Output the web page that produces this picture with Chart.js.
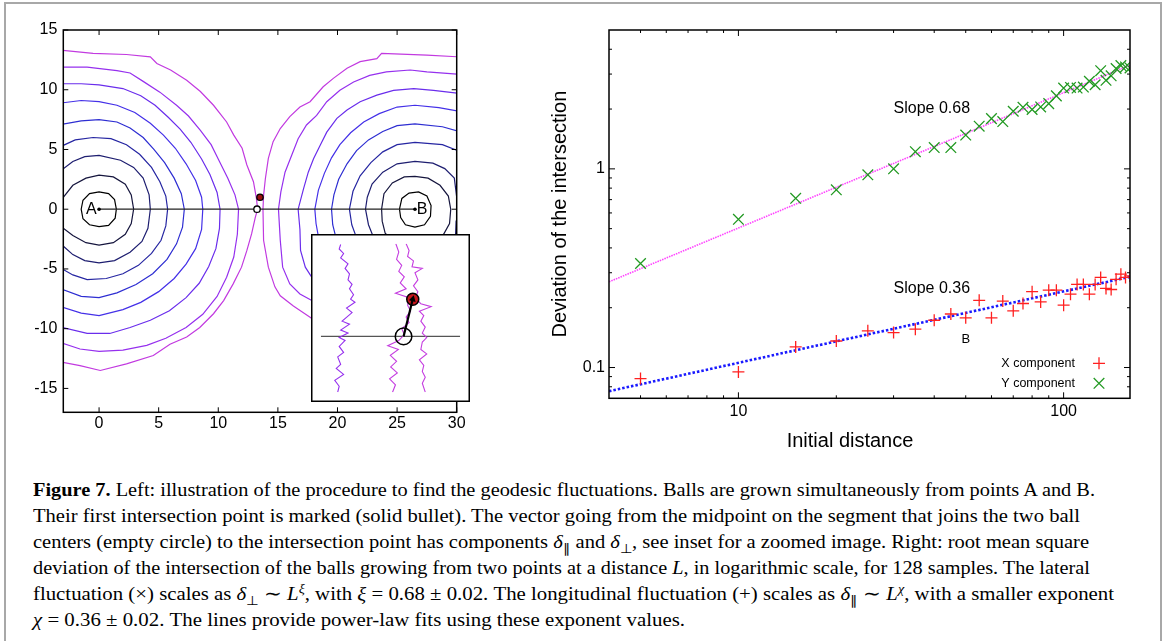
<!DOCTYPE html>
<html>
<head>
<meta charset="utf-8">
<title>Figure 7</title>
<script src="https://cdn.jsdelivr.net/npm/chart.js@4.4.1/dist/chart.umd.min.js"></script>
<style>
  html, body { margin: 0; padding: 0; background: #fff; }
  body { width: 1168px; height: 641px; position: relative; overflow: hidden; font-family: "Liberation Sans", Arial, sans-serif; }
  #frame { position: absolute; left: 4px; top: 2px; width: 1154px; height: 700px; border: 2px solid #a8a8a8; border-bottom: none; }
  #leftChart { position: absolute; left: 0; top: 0; }
  #insetChart { position: absolute; left: 311px; top: 234px; z-index: 2; }
  #rightChart { position: absolute; left: 540px; top: 0; }
  #caption { position: absolute; left: 33px; top: 476.5px; font-family: "Liberation Serif", "Times New Roman", serif; font-size: 18.5px; color: #000; }
  #caption .ln { height: 26.2px; line-height: 26.2px; white-space: nowrap; }
  #caption .ln span { display: inline-block; transform-origin: 0 50%; }
  sub, sup { font-size: 68%; line-height: 0; }
</style>
</head>
<body>
<div id="frame"></div>
<canvas id="leftChart" width="480" height="460"></canvas>
<canvas id="insetChart" width="159" height="168"></canvas>
<canvas id="rightChart" width="620" height="460"></canvas>
<div id="caption">
  <div class="ln"><span><b>Figure 7.</b> Left: illustration of the procedure to find the geodesic fluctuations. Balls are grown simultaneously from points A and B.</span></div>
  <div class="ln"><span>Their first intersection point is marked (solid bullet). The vector going from the midpoint on the segment that joins the two ball</span></div>
  <div class="ln"><span>centers (empty circle) to the intersection point has components <i>δ</i><sub>∥</sub> and <i>δ</i><sub>⊥</sub>, see inset for a zoomed image. Right: root mean square</span></div>
  <div class="ln"><span>deviation of the intersection of the balls growing from two points at a distance <i>L</i>, in logarithmic scale, for 128 samples. The lateral</span></div>
  <div class="ln"><span>fluctuation (×) scales as <i>δ</i><sub>⊥</sub> ∼ <i>L</i><sup><i>ξ</i></sup>, with <i>ξ</i> = 0.68 ± 0.02. The longitudinal fluctuation (+) scales as <i>δ</i><sub>∥</sub> ∼ <i>L</i><sup><i>χ</i></sup>, with a smaller exponent</span></div>
  <div class="ln"><span><i>χ</i> = 0.36 ± 0.02. The lines provide power-law fits using these exponent values.</span></div>
</div>
<script>
// --- DATA: right panel (log-log) --- //
const distances = [5, 10, 15, 20, 25, 30, 35, 40, 45, 50, 55, 60, 65, 70, 75, 80, 85, 90, 95, 100, 105, 110, 115, 120, 125, 130, 135, 140, 145, 150, 155, 160];
const xComponent = [0.088, 0.095, 0.127, 0.136, 0.153, 0.150, 0.156, 0.173, 0.186, 0.178, 0.218, 0.178, 0.216, 0.193, 0.210, 0.241, 0.214, 0.245, 0.245, 0.206, 0.234, 0.262, 0.262, 0.234, 0.262, 0.284, 0.250, 0.247, 0.278, 0.295, 0.284, 0.289];
const yComponent = [0.334, 0.557, 0.711, 0.784, 0.933, 1.00, 1.22, 1.28, 1.28, 1.48, 1.64, 1.79, 1.73, 1.95, 2.04, 1.99, 2.05, 2.13, 2.33, 2.55, 2.57, 2.55, 2.58, 2.76, 2.65, 3.12, 2.79, 2.94, 3.20, 3.31, 3.26, 3.22];
const fitDistance = [4, 160];
const fitY = [0.27, 3.33];
const fitX = [0.076, 0.286];
const xMajorTicks = [10, 100];
const xMinorTicks = [5, 6, 7, 8, 9, 20, 30, 40, 50, 60, 70, 80, 90];
const yMajorTicks = [0.1, 1];
const yMinorTicks = [0.08, 0.09, 0.2, 0.3, 0.4, 0.5, 0.6, 0.7, 0.8, 0.9, 2, 3, 4];
const slopeLabels = ['Slope 0.68', 'Slope 0.36'];
const slopeLabelX = [30, 30];
const slopeLabelY = [2.0, 0.25];
const legendLabels = ['X component', 'Y component'];

// --- DATA: left panel (balls grown from A and B) --- //
const leftXTicks = [0, 5, 10, 15, 20, 25, 30];
const leftYTicks = [-15, -10, -5, 0, 5, 10, 15];
const centerA = [0, 0];
const centerB = [26.5, 0];
const midPoint = [13.25, 0];
const hitPoint = [13.5, 1.0];
const ballColors = ['#000000', '#16163e', '#1e1e70', '#2626a2', '#2e2ed2', '#4430e8', '#6a2dec', '#9630ee', '#c23ae0'];

const ballA1 = [[1.45, 0], [1.3, 0.8], [0.8, 1.3], [0, 1.45], [-0.8, 1.3], [-1.35, 0.75], [-1.5, 0], [-1.35, -0.8], [-0.8, -1.3], [0, -1.45], [0.8, -1.35], [1.35, -0.75], [1.45, 0]];
const ballA2 = [[2.9, 0], [2.7, 1.2], [2.2, 2.1], [1.2, 2.7], [0, 2.85], [-1.1, 2.6], [-2.2, 2.0], [-3.0, 1.0], [-3.2, 0], [-3.0, -1.6], [-2.2, -2.2], [-1.1, -2.8], [0, -3.0], [1.2, -2.8], [2.2, -2.1], [2.7, -1.2], [2.9, 0]];
const ballA3 = [[-3.1, 3.3], [-2.2, 4.0], [-1.2, 4.4], [0, 4.5], [1.8, 4.1], [2.9, 3.5], [3.7, 2.6], [4.2, 1.2], [4.3, 0], [4.1, -1.6], [3.6, -2.7], [2.6, -3.6], [1.3, -4.3], [0, -4.5], [-1.2, -4.3], [-2.2, -3.8], [-3.1, -3.0]];
const ballA4 = [[-3.1, 5.3], [-2, 5.8], [-0.5, 6.0], [1, 5.9], [2.3, 5.4], [3.4, 4.6], [4.4, 3.5], [5.1, 2.3], [5.6, 1.1], [5.75, 0], [5.6, -1.4], [5.2, -2.6], [4.4, -3.7], [3.3, -4.7], [2, -5.4], [0.6, -5.8], [-1, -5.9], [-2.2, -5.5], [-3.1, -5.0]];
const ballA5 = [[-3.1, 7.1], [-1.5, 7.4], [0, 7.5], [1.5, 7.3], [2.6, 6.8], [3.7, 6.0], [4.6, 5.0], [5.5, 3.9], [6.3, 2.6], [6.9, 1.3], [7.15, 0], [7.0, -1.5], [6.5, -2.9], [5.7, -4.2], [4.5, -5.4], [3.1, -6.3], [1.5, -7.0], [0, -7.4], [-1.5, -7.3], [-3.1, -6.7]];
const ballA6 = [[-3.1, 8.9], [-1.5, 9.1], [0, 9.0], [1.5, 8.7], [3.0, 8.1], [4.3, 7.2], [5.4, 6.2], [6.4, 5.1], [7.3, 3.8], [8.1, 2.4], [8.6, 1.0], [8.7, 0], [8.6, -1.7], [8.1, -3.3], [7.3, -4.6], [6.3, -5.8], [5.0, -6.9], [3.5, -7.8], [2.0, -8.4], [0, -8.9], [-1.5, -8.7], [-3.1, -8.2]];
const ballA7 = [[-3.1, 10.5], [-1.5, 10.5], [0, 10.4], [2.0, 10.1], [3.5, 9.5], [4.7, 8.7], [5.8, 7.7], [6.8, 6.7], [7.7, 5.6], [8.6, 4.2], [9.3, 2.9], [9.9, 1.4], [10.15, 0], [10.1, -1.6], [9.8, -3.3], [9.2, -4.8], [8.4, -6.2], [7.3, -7.4], [5.9, -8.5], [4.3, -9.3], [2.6, -9.9], [0.9, -10.4], [-1, -10.4], [-3.1, -9.9]];
const ballA8 = [[-3.1, 11.9], [-1.0, 11.9], [1.5, 11.6], [2.6, 11.4], [3.7, 10.7], [5.1, 9.8], [6.5, 8.7], [7.5, 7.8], [8.5, 6.6], [9.4, 5.4], [10.1, 4.0], [10.8, 2.6], [11.4, 1.2], [11.7, 0], [11.6, -2.1], [11.3, -4.0], [10.7, -5.7], [9.9, -7.3], [8.7, -8.8], [7.3, -9.9], [5.6, -10.8], [4.0, -11.4], [2.0, -11.8], [0, -11.9], [-1.6, -11.7], [-3.1, -11.2]];
const ballA9 = [[-3.1, 13.3], [-0.5, 13.05], [2.3, 12.95], [4.3, 12.75], [4.85, 12.2], [6.0, 11.65], [7.35, 10.8], [8.5, 9.85], [9.6, 8.7], [10.7, 7.3], [11.3, 6.2], [12.0, 5.1], [12.4, 3.7], [12.95, 2.3], [13.2, 0.9], [13.3, 0], [13.1, -0.7], [12.8, -2.05], [12.4, -3.45], [11.95, -4.85], [11.25, -6.25], [10.45, -7.65], [9.6, -8.75], [8.45, -9.9], [7.35, -10.7], [5.95, -11.3], [4.55, -12.25], [2.3, -12.95], [0.1, -13.5], [-1.6, -13.1], [-3.1, -12.8]];

const ballB1 = [[25.2, 0], [25.4, 0.9], [26.0, 1.35], [26.8, 1.45], [27.5, 1.1], [27.85, 0.3], [27.8, -0.6], [27.3, -1.3], [26.5, -1.5], [25.7, -1.3], [25.3, -0.7], [25.2, 0]];
const ballB2 = [[23.7, 0], [23.9, 1.3], [24.6, 2.2], [25.6, 2.7], [26.5, 2.75], [27.6, 2.6], [28.6, 2.0], [29.3, 1.1], [29.5, 0], [29.4, -1.2], [28.9, -2.1], [28.2, -2.8], [26.5, -3.0], [24.8, -2.8], [24.0, -2.0], [23.75, -1.0], [23.7, 0]];
const ballB3 = [[29.9, -2.3], [29.95, -1.0], [30.0, 1.0], [29.8, 2.6], [29.0, 3.4], [28.0, 3.85], [26.5, 4.0], [25.0, 3.8], [23.8, 3.1], [22.9, 2.1], [22.5, 1.0], [22.35, 0], [22.6, -1.3], [23.0, -2.3], [23.5, -3.0]];
const ballB4 = [[30.2, 4.85], [28.8, 5.4], [26.5, 5.6], [25, 5.4], [23.8, 4.8], [22.8, 3.9], [21.9, 2.8], [21.3, 1.5], [21.0, 0], [21.2, -1.3], [21.6, -2.4], [22.1, -3.3]];
const ballB5 = [[30.2, 6.5], [28.8, 6.9], [26.5, 7.15], [25, 7.0], [23.8, 6.5], [22.6, 5.8], [21.6, 4.9], [20.8, 3.8], [20.1, 2.5], [19.7, 1.2], [19.5, 0], [19.6, -1.3], [19.9, -2.5], [20.3, -3.5]];
const ballB6 = [[30.2, 8.2], [28.5, 8.5], [26.5, 8.7], [25, 8.55], [23.5, 8.0], [22.2, 7.3], [21.1, 6.4], [20.2, 5.4], [19.5, 4.3], [18.9, 3.0], [18.4, 1.6], [18.1, 0], [18.2, -1.2], [18.4, -2.3], [18.8, -3.5]];
const ballB7 = [[30.2, 9.7], [28.05, 9.95], [26.4, 10.1], [24.7, 9.95], [23.3, 9.55], [21.9, 9.0], [20.8, 8.3], [19.95, 7.6], [19.1, 6.45], [18.55, 5.35], [18.0, 4.25], [17.55, 3.1], [17.15, 1.7], [16.7, 0], [16.85, -1.7], [16.9, -3.45], [17.3, -4.85], [17.85, -5.7], [18.6, -6.5]];
const ballB8 = [[30.2, 11.3], [27.5, 11.5], [26.1, 11.65], [24.1, 11.5], [22.7, 11.2], [21.35, 10.65], [20.2, 9.95], [19.1, 9.0], [18.25, 7.85], [17.4, 7.05], [16.7, 5.9], [16.15, 4.5], [15.6, 3.1], [15.25, 1.45], [15.05, 0], [15.2, -2.6], [15.4, -4.85], [16.0, -6.25], [16.85, -7.1], [17.85, -7.65], [19, -8.3]];
const ballB9 = [[30.2, 12.75], [27.5, 12.9], [23.7, 13.05], [23.3, 12.6], [21.9, 12.35], [20.8, 11.8], [19.65, 10.95], [18.8, 10.25], [17.7, 9.0], [16.85, 8.55], [16.0, 7.75], [15.2, 6.75], [14.6, 5.65], [14.2, 4.25], [13.95, 2.55], [13.8, 1.15], [13.75, 0], [13.8, -2.6], [14.2, -4.85], [14.75, -6.5], [15.2, -7.25], [16.3, -8.1], [17.7, -9.05], [19, -10]];

// --- DATA: inset (zoom around the meeting point) --- //
const insetA8 = [[11.54, 2.47], [11.50, 2.35], [11.62, 2.23], [11.54, 2.11], [11.74, 1.95], [11.66, 1.83], [11.78, 1.68], [11.74, 1.52], [11.85, 1.40], [11.78, 1.28], [11.89, 1.12], [11.81, 1.00], [11.93, 0.92], [11.70, 0.76], [11.85, 0.64], [11.58, 0.41], [11.78, 0.33], [11.54, 0.17], [11.74, 0.09], [11.50, -0.03], [11.66, -0.11], [11.50, -0.27], [11.62, -0.43], [11.46, -0.55], [11.54, -0.75], [11.42, -0.86], [11.62, -1.02], [11.38, -1.18], [11.50, -1.34], [11.46, -1.50]];
const insetA9 = [[13.04, 2.49], [13.12, 2.27], [13.06, 2.07], [13.20, 1.91], [13.12, 1.75], [13.27, 1.60], [13.16, 1.44], [13.32, 1.28], [13.03, 1.16], [13.40, 1.04], [13.36, 0.84], [13.44, 0.68], [13.32, 0.52], [13.40, 0.37], [13.20, 0.21], [13.27, 0.05], [13.12, -0.11], [12.82, -0.25], [13.11, -0.35], [12.89, -0.51], [13.06, -0.67], [12.90, -0.82], [13.08, -0.98], [12.87, -1.14], [13.03, -1.30], [12.95, -1.50]];
const insetB9 = [[13.32, 2.49], [13.40, 2.31], [13.36, 2.15], [13.52, 2.03], [13.48, 1.87], [13.76, 1.83], [13.56, 1.71], [13.64, 1.52], [13.52, 1.36], [13.64, 1.20], [13.56, 1.04], [13.72, 0.88], [14.00, 0.80], [13.68, 0.68], [13.80, 0.56], [13.72, 0.41], [13.84, 0.25], [13.76, 0.09], [13.88, -0.03], [13.76, -0.15], [13.72, -0.35], [13.88, -0.47], [13.68, -0.63], [13.80, -0.78], [13.76, -0.94], [13.84, -1.10], [13.76, -1.26], [13.84, -1.50]];
const insetXRange = [11.0, 14.79];
const insetYRange = [-1.5, 2.49];

// caption line widths in the figure (px)
const captionWidths = [1062, 1047, 1056, 1057, 1081, 652];

const TICK_FONT = { family: '"Liberation Sans", Arial, sans-serif', size: 16 };
const pts = arr => arr.map(p => ({ x: p[0], y: p[1] }));

document.addEventListener('DOMContentLoaded', () => {
    Chart.defaults.color = '#000';
    Chart.defaults.font.family = '"Liberation Sans", Arial, sans-serif';

    // --- LEFT PANEL --- //
    const ballsA = [ballA1, ballA2, ballA3, ballA4, ballA5, ballA6, ballA7, ballA8, ballA9];
    const ballsB = [ballB1, ballB2, ballB3, ballB4, ballB5, ballB6, ballB7, ballB8, ballB9];
    const ballSets = [];
    [ballsA, ballsB].forEach(group => group.forEach((ball, i) => {
        ballSets.push({
            data: pts(ball), showLine: true, pointRadius: 0, borderWidth: 1.2,
            borderColor: ballColors[i], fill: false, order: 10
        });
    }));

    const leftDecor = {
        id: 'leftDecor',
        afterDatasetsDraw(chart) {
            const { ctx, chartArea: a, scales: { x, y } } = chart;
            ctx.save();
            ctx.strokeStyle = '#000';
            ctx.lineWidth = 1;
            leftXTicks.forEach(v => {
                const px = x.getPixelForValue(v);
                ctx.beginPath();
                ctx.moveTo(px, a.bottom); ctx.lineTo(px, a.bottom - 5);
                ctx.moveTo(px, a.top); ctx.lineTo(px, a.top + 5);
                ctx.stroke();
            });
            leftYTicks.forEach(v => {
                const py = y.getPixelForValue(v);
                ctx.beginPath();
                ctx.moveTo(a.left, py); ctx.lineTo(a.left + 5, py);
                ctx.moveTo(a.right, py); ctx.lineTo(a.right - 5, py);
                ctx.stroke();
            });
            ctx.lineWidth = 1.5;
            ctx.strokeRect(a.left, a.top, a.right - a.left, a.bottom - a.top);
            // point names
            ctx.fillStyle = '#000';
            ctx.font = '16px "Liberation Sans", Arial, sans-serif';
            ctx.textAlign = 'center';
            ctx.textBaseline = 'middle';
            ctx.fillText('A', x.getPixelForValue(centerA[0] - 0.65), y.getPixelForValue(centerA[1]));
            ctx.fillText('B', x.getPixelForValue(centerB[0] + 0.6), y.getPixelForValue(centerB[1]));
            ctx.restore();
        }
    };

    new Chart(document.getElementById('leftChart'), {
        type: 'scatter',
        data: {
            datasets: [
                { data: pts([hitPoint]), pointRadius: 3.2, pointBackgroundColor: '#9a1010', pointBorderColor: '#000', pointBorderWidth: 1.3, order: 0 },
                { data: pts([midPoint]), pointRadius: 3.2, pointBackgroundColor: '#fff', pointBorderColor: '#000', pointBorderWidth: 1.3, order: 1 },
                { data: pts([centerA, centerB]), showLine: true, borderColor: '#222', borderWidth: 1.3, pointRadius: 1.8, pointBackgroundColor: '#000', pointBorderWidth: 0, order: 2 },
                ...ballSets
            ]
        },
        options: {
            responsive: false, animation: false, events: [],
            layout: { padding: { top: 30, right: 23.3, left: 0, bottom: 0 } },
            plugins: { legend: { display: false }, tooltip: { enabled: false } },
            scales: {
                x: {
                    type: 'linear', min: -3, max: 30,
                    grid: { display: false, drawTicks: false }, border: { display: false },
                    ticks: { font: TICK_FONT, padding: 2, callback: v => String(v) },
                    afterBuildTicks: s => { s.ticks = leftXTicks.map(v => ({ value: v })); },
                    afterFit: s => { s.height = 47.7; }
                },
                y: {
                    type: 'linear', min: -17, max: 15,
                    grid: { display: false, drawTicks: false }, border: { display: false },
                    ticks: { font: TICK_FONT, padding: 6, callback: v => String(v) },
                    afterBuildTicks: s => { s.ticks = leftYTicks.map(v => ({ value: v })); },
                    afterFit: s => { s.width = 63.3; }
                }
            }
        },
        plugins: [leftDecor]
    });

    // --- INSET --- //
    const insetFrame = {
        id: 'insetFrame',
        beforeDraw(chart) {
            const { ctx, width, height } = chart;
            ctx.save(); ctx.fillStyle = '#fff'; ctx.fillRect(0, 0, width, height); ctx.restore();
        },
        afterDraw(chart) {
            const { ctx, width, height } = chart;
            ctx.save(); ctx.strokeStyle = '#000'; ctx.lineWidth = 1.5;
            ctx.strokeRect(0.75, 0.75, width - 1.5, height - 1.5); ctx.restore();
        }
    };

    new Chart(document.getElementById('insetChart'), {
        type: 'scatter',
        data: {
            datasets: [
                { data: pts([midPoint, hitPoint]), showLine: true, borderColor: '#000', borderWidth: 2.2,
                  pointRadius: [0, 4], pointStyle: 'triangle', pointRotation: 14, pointBackgroundColor: '#000', pointBorderWidth: 0, order: 0 },
                { data: pts([hitPoint]), pointRadius: 6, pointBackgroundColor: '#c4161c', pointBorderColor: '#000', pointBorderWidth: 1.5, order: 1 },
                { data: pts([midPoint]), pointRadius: 8.3, pointBackgroundColor: 'rgba(255,255,255,0)', pointBorderColor: '#000', pointBorderWidth: 1.5, order: 2 },
                { data: pts([[insetXRange[0], 0], [insetXRange[1], 0]]), showLine: true, borderColor: '#555', borderWidth: 1.3, pointRadius: 0, order: 5 },
                { data: pts(insetA8), showLine: true, borderColor: ballColors[7], borderWidth: 1.1, pointRadius: 0, order: 4 },
                { data: pts(insetA9), showLine: true, borderColor: '#c53ee0', borderWidth: 1.1, pointRadius: 0, order: 4 },
                { data: pts(insetB9), showLine: true, borderColor: '#c53ee0', borderWidth: 1.1, pointRadius: 0, order: 4 }
            ]
        },
        options: {
            responsive: false, animation: false, events: [],
            layout: { padding: 0 },
            plugins: { legend: { display: false }, tooltip: { enabled: false } },
            scales: {
                x: { type: 'linear', display: false, min: insetXRange[0], max: insetXRange[1] },
                y: { type: 'linear', display: false, min: insetYRange[0], max: insetYRange[1] }
            }
        },
        plugins: [insetFrame]
    });

    // --- RIGHT PANEL --- //
    const rightDecor = {
        id: 'rightDecor',
        afterDraw(chart) {
            const { ctx, chartArea: a, scales: { x, y } } = chart;
            ctx.save();
            ctx.strokeStyle = '#000';
            ctx.lineWidth = 1;
            const xTick = (v, len) => {
                const px = x.getPixelForValue(v);
                ctx.beginPath();
                ctx.moveTo(px, a.bottom); ctx.lineTo(px, a.bottom - len);
                ctx.moveTo(px, a.top); ctx.lineTo(px, a.top + len);
                ctx.stroke();
            };
            const yTick = (v, len) => {
                const py = y.getPixelForValue(v);
                ctx.beginPath();
                ctx.moveTo(a.left, py); ctx.lineTo(a.left + len, py);
                ctx.moveTo(a.right, py); ctx.lineTo(a.right - len, py);
                ctx.stroke();
            };
            xMajorTicks.forEach(v => xTick(v, 6));
            xMinorTicks.forEach(v => xTick(v, 3));
            yMajorTicks.forEach(v => yTick(v, 6));
            yMinorTicks.forEach(v => yTick(v, 3));
            ctx.lineWidth = 1.5;
            ctx.strokeRect(a.left, a.top, a.right - a.left, a.bottom - a.top);

            ctx.fillStyle = '#000';
            ctx.textBaseline = 'middle';
            ctx.font = '16px "Liberation Sans", Arial, sans-serif';
            ctx.textAlign = 'left';
            slopeLabels.forEach((t, i) => ctx.fillText(t, x.getPixelForValue(slopeLabelX[i]), y.getPixelForValue(slopeLabelY[i])));
            ctx.font = '13px "Liberation Sans", Arial, sans-serif';
            ctx.textAlign = 'center';
            ctx.fillText('B', x.getPixelForValue(50), y.getPixelForValue(0.138));

            // legend, bottom right inside the frame
            ctx.font = '12.5px "Liberation Sans", Arial, sans-serif';
            ctx.textAlign = 'right';
            legendLabels.forEach((t, i) => {
                const ly = a.bottom - 35 + i * 20;
                ctx.fillStyle = '#000';
                ctx.fillText(t, a.right - 55, ly);
                const mx = a.right - 31;
                ctx.lineWidth = 1.3;
                ctx.beginPath();
                if (i === 0) {
                    ctx.strokeStyle = '#ff2020';
                    ctx.moveTo(mx - 6, ly); ctx.lineTo(mx + 6, ly);
                    ctx.moveTo(mx, ly - 6); ctx.lineTo(mx, ly + 6);
                } else {
                    ctx.strokeStyle = '#229922';
                    ctx.moveTo(mx - 5.3, ly - 5.3); ctx.lineTo(mx + 5.3, ly + 5.3);
                    ctx.moveTo(mx - 5.3, ly + 5.3); ctx.lineTo(mx + 5.3, ly - 5.3);
                }
                ctx.stroke();
            });

            // x axis title (sits a little left of the plot centre in the figure)
            ctx.fillStyle = '#000';
            ctx.font = '20px "Liberation Sans", Arial, sans-serif';
            ctx.textAlign = 'center';
            ctx.fillText('Initial distance', a.left + 241, 441.7);
            ctx.restore();
        }
    };

    new Chart(document.getElementById('rightChart'), {
        type: 'scatter',
        data: {
            datasets: [
                { label: legendLabels[0], data: distances.map((d, i) => ({ x: d, y: xComponent[i] })),
                  pointStyle: 'cross', pointRadius: 6, borderColor: '#ff2020', pointBorderWidth: 1.3, order: 0 },
                { label: legendLabels[1], data: distances.map((d, i) => ({ x: d, y: yComponent[i] })),
                  pointStyle: 'crossRot', pointRadius: 7.5, borderColor: '#229922', pointBorderWidth: 1.3, order: 1 },
                { data: fitDistance.map((d, i) => ({ x: d, y: fitY[i] })), showLine: true, pointRadius: 0,
                  borderColor: '#ff44ff', borderWidth: 1.6, borderDash: [1.5, 1], order: 3 },
                { data: fitDistance.map((d, i) => ({ x: d, y: fitX[i] })), showLine: true, pointRadius: 0,
                  borderColor: '#1a1aff', borderWidth: 2.6, borderDash: [2.5, 2], order: 2 }
            ]
        },
        options: {
            responsive: false, animation: false, events: [],
            layout: { padding: { top: 30, right: 30, left: 0, bottom: 0 } },
            plugins: { legend: { display: false }, tooltip: { enabled: false } },
            scales: {
                x: {
                    type: 'logarithmic', min: 4, max: 160,
                    grid: { display: false, drawTicks: false }, border: { display: false },
                    ticks: { font: TICK_FONT, padding: 4, callback: v => String(v) },
                    afterBuildTicks: s => { s.ticks = xMajorTicks.map(v => ({ value: v })); },
                    afterFit: s => { s.height = 61.7; }
                },
                y: {
                    type: 'logarithmic', min: 0.07, max: 5,
                    grid: { display: false, drawTicks: false }, border: { display: false },
                    ticks: { font: TICK_FONT, padding: 4, callback: v => String(v) },
                    title: { display: true, text: 'Deviation of the intersection', font: { size: 20 }, padding: { top: 8, bottom: 0 } },
                    afterBuildTicks: s => { s.ticks = yMajorTicks.map(v => ({ value: v })); },
                    afterFit: s => { s.width = 69; }
                }
            }
        },
        plugins: [rightDecor]
    });

    // --- CAPTION: fit each line to the width it has in the figure --- //
    document.fonts.ready.then(() => {
        document.querySelectorAll('#caption .ln span').forEach((span, i) => {
            const w = span.getBoundingClientRect().width;
            if (w > 0) span.style.transform = `scaleX(${captionWidths[i] / w})`;
        });
    });
});
</script>
</body>
</html>
